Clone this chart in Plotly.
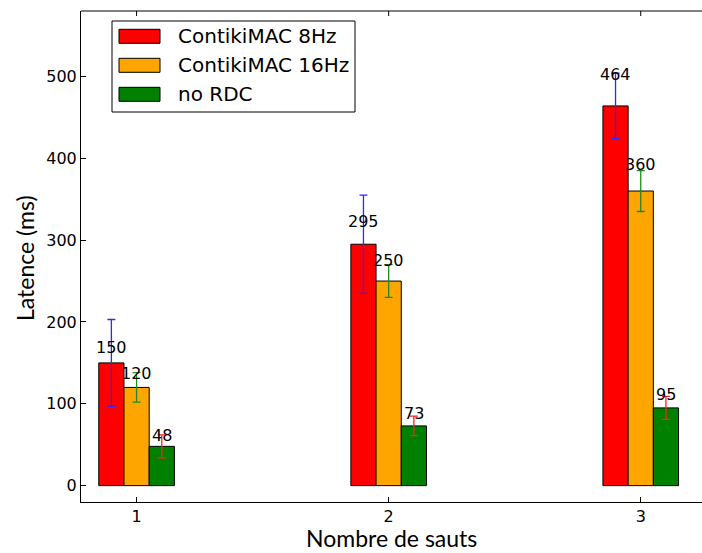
import plotly.graph_objects as go

# data
hops = [1, 2, 3]
series_names = ["ContikiMAC 8Hz", "ContikiMAC 16Hz", "no RDC"]
lat_8hz = [150, 295, 464]
lat_16hz = [120, 250, 360]
lat_nordc = [48, 73, 95]
err_8hz = [53, 60, 40]
err_16hz = [18, 20, 25]
err_nordc = [14, 12, 14]
y_ticks = [0, 100, 200, 300, 400, 500]

# plot area in pixels (matches the reference)
W, H = 702, 553
L, R, T, B = 81, 0, 11, 51
PW, PH = W - L - R, H - T - B


def px_x(x):
    return (x - L) / PW


def px_y(y):
    return (H - B - y) / PH


bar_colors = ["#ff0000", "#ffa500", "#008000"]
err_colors = ["#2a2aff", "#208a20", "#ff2020"]
offsets = [-0.1, 0.0, 0.1]
values = [lat_8hz, lat_16hz, lat_nordc]
errors = [err_8hz, err_16hz, err_nordc]

fig = go.Figure()

for name, vals, errs, off, col, ecol in zip(series_names, values, errors,
                                            offsets, bar_colors, err_colors):
    xs = [h + off for h in hops]
    fig.add_trace(go.Bar(
        x=xs, y=vals, width=0.1, name=name,
        marker=dict(color=col, line=dict(color="#000000", width=1)),
        error_y=dict(type="data", array=errs, color=ecol, thickness=1.3, width=4),
        showlegend=False,
    ))
    # value labels above the bars
    for x, v in zip(xs, vals):
        fig.add_annotation(
            x=x, y=v * 1.06, text=str(v), showarrow=False,
            xanchor="center", yanchor="bottom", yshift=-3,
            font=dict(family="DejaVu Sans", size=16, color="#000000"),
        )

# top spine with its ticks (matplotlib style frame, right spine is off the page)
fig.add_shape(type="line", xref="paper", yref="paper", x0=0, x1=1, y0=1, y1=1,
              line=dict(color="#000000", width=1))
for h in hops:
    fig.add_shape(type="line", xref="x", yref="paper", x0=h, x1=h,
                  y0=1, y1=1 - 5 / PH, line=dict(color="#000000", width=1))

# mask the thin edge line plotly leaves on the right border of the plot area
fig.add_shape(type="rect", xref="paper", yref="paper", layer="above",
              x0=1 - 3 / PW, x1=1.01, y0=1.5 / PH, y1=1 - 1.5 / PH,
              line=dict(width=0), fillcolor="#ffffff")

# legend drawn by hand to get the wide matplotlib swatches
fig.add_shape(type="rect", xref="paper", yref="paper",
              x0=px_x(112), x1=px_x(355), y0=px_y(112), y1=px_y(21),
              line=dict(color="#000000", width=1), fillcolor="#ffffff")
for i, (name, col) in enumerate(zip(series_names, bar_colors)):
    cy = 36.3 + i * 29
    fig.add_shape(type="rect", xref="paper", yref="paper",
                  x0=px_x(119), x1=px_x(160), y0=px_y(cy + 7), y1=px_y(cy - 7),
                  line=dict(color="#000000", width=1), fillcolor=col)
    fig.add_annotation(x=px_x(176), y=px_y(cy), xref="paper", yref="paper",
                       text=name, showarrow=False, xanchor="left", yanchor="middle",
                       font=dict(family="DejaVu Sans", size=20, color="#000000"))

# axis titles placed by hand
fig.add_annotation(x=px_x(391), y=px_y(538), xref="paper", yref="paper",
                   text="Nombre de sauts", showarrow=False,
                   xanchor="center", yanchor="middle",
                   font=dict(family="Lato", size=23, color="#000000"))
fig.add_annotation(x=px_x(25), y=px_y(258), xref="paper", yref="paper",
                   text="Latence (ms)", showarrow=False, textangle=-90,
                   xanchor="center", yanchor="middle",
                   font=dict(family="Lato", size=23, color="#000000"))

fig.update_layout(
    width=W, height=H,
    margin=dict(l=L, r=R, t=T, b=B, autoexpand=False),
    paper_bgcolor="#ffffff",
    plot_bgcolor="#ffffff",
    barmode="overlay",
    font=dict(family="DejaVu Sans", size=15, color="#000000"),
    xaxis=dict(
        range=[0.7795, 3.243],
        tickvals=hops, ticktext=[str(h) for h in hops],
        ticks="inside", ticklen=5, tickcolor="#000000",
        tickfont=dict(family="DejaVu Sans", size=16),
        showline=True, linecolor="#000000", linewidth=1, mirror=False,
        showgrid=False, zeroline=False, automargin=False,
    ),
    yaxis=dict(
        range=[-20, 580],
        tickvals=y_ticks,
        ticks="inside", ticklen=5, tickcolor="#000000",
        tickfont=dict(family="DejaVu Sans", size=16),
        showline=True, linecolor="#000000", linewidth=1, mirror=False,
        showgrid=False, zeroline=False, automargin=False,
    ),
)

# the page body has a default 8px margin; drop it so the chart sits at 0,0
fig.write_html(
    "out.html",
    config={"displayModeBar": False},
    post_script="document.body.style.margin='0';document.body.style.overflow='hidden';",
)
